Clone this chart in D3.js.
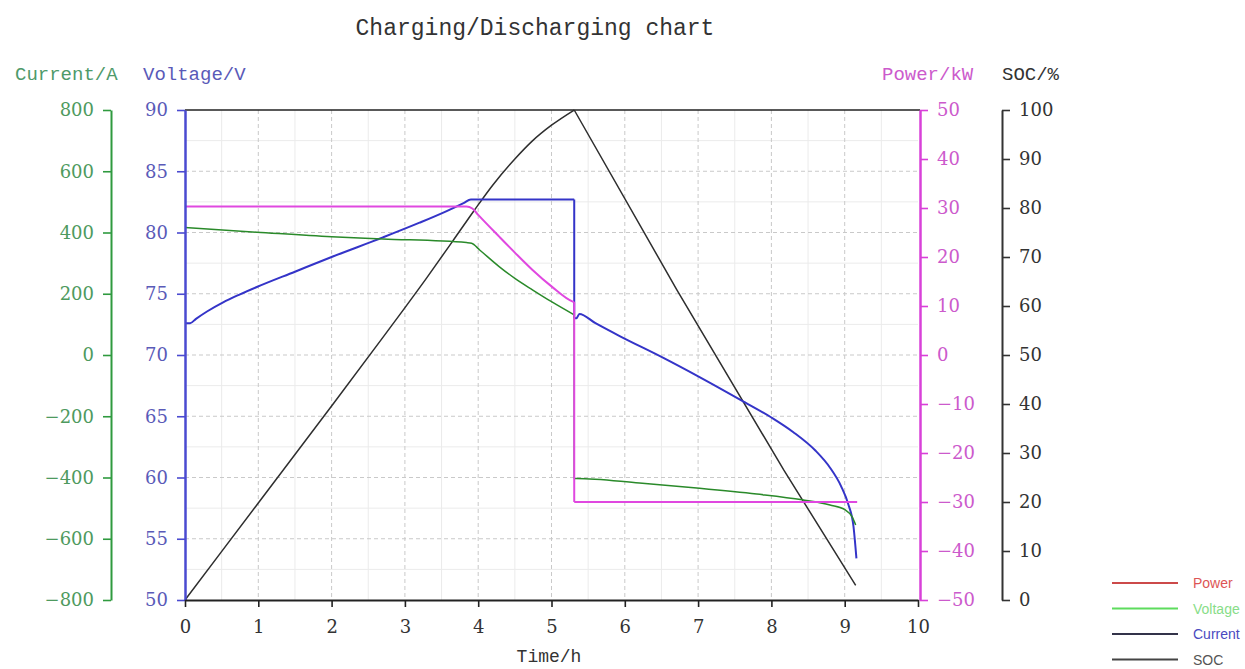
<!DOCTYPE html>
<html><head><meta charset="utf-8">
<script src="https://cdn.jsdelivr.net/npm/d3@7"></script>
<style>body{margin:0;background:#fff;} svg{display:block}</style>
</head><body><svg id="c" width="1245" height="669"></svg>
<script>
// ---- data ----
const timeTicks = [0,1,2,3,4,5,6,7,8,9,10];
const voltageTicks = [50,55,60,65,70,75,80,85,90];
const currentTicks = [-800,-600,-400,-200,0,200,400,600,800];
const powerTicks = [-50,-40,-30,-20,-10,0,10,20,30,40,50];
const socTicks = [0,10,20,30,40,50,60,70,80,90,100];

// [time h, volts]
const voltageData = [[0,72.6],[0.07,72.6],[0.15,72.95],[0.3,73.55],[0.52,74.3],[0.75,74.95],[0.98,75.55],[1.5,76.8],[2.0,78.0],[2.7,79.6],[3.2,80.8],[3.57,81.75],[3.8,82.4],[3.9,82.7],[5.31,82.7],[5.31,73.0],[5.34,73.0],[5.38,73.35],[5.6,72.6],[5.93,71.55],[6.5,69.85],[7.02,68.2],[7.59,66.3],[8.0,64.9],[8.3,63.7],[8.6,62.2],[8.8,60.8],[8.95,59.3],[9.05,57.8],[9.12,56.0],[9.16,53.4]];
// [time h, amps]
const currentData = [[0,416],[0.98,401],[2.0,386],[2.7,379],[3.84,367],[3.91,365],[4.02,343],[4.29,288],[4.5,250],[4.745,212],[5.0,174],[5.31,131],[5.31,-403],[5.34,-403],[6.2,-418],[7.02,-435],[7.8,-454],[8.42,-473],[8.8,-490],[9.01,-506],[9.1,-528],[9.15,-555]];
// [time h, kW]
const powerData = [[0,30.3],[3.84,30.3],[3.92,29.9],[4.0,28.6],[4.29,24.1],[4.5,20.9],[4.745,17.3],[5.0,14.0],[5.29,10.9],[5.31,10.8],[5.31,-30],[9.17,-30]];
// [time h, %]
const socChargeData = [[0,0],[1,19.8],[2,39.6],[2.7,53.6],[3.3,65.8],[3.65,73.2],[3.95,79.6],[4.2,84.7],[4.5,90.0],[4.74,93.7],[5.0,96.9],[5.31,100]];
const socDischargeData = [[5.31,100],[6.71,63.3],[8.17,26.5],[9.15,3.0]];

const legendNames = ["Power","Voltage","Current","SOC"];
const legendLineColors = ["#cc4a4a","#5ddc5d","#33334a","#444444"];
const legendTextColors = ["#dd5555","#88dd88","#4a4ac0","#555555"];

// ---- chart ----
const svg = d3.select("#c");
const X0 = 185, X1 = 918, YT = 110, YB = 600;
const x = d3.scaleLinear().domain([0,10]).range([X0,X1]);
const yV = d3.scaleLinear().domain([50,90]).range([YB,YT]);
const yI = d3.scaleLinear().domain([-800,800]).range([YB,YT]);
const yP = d3.scaleLinear().domain([-50,50]).range([YB,YT]);
const yS = d3.scaleLinear().domain([0,100]).range([YB,YT]);

const tickFont = "'DejaVu Serif', serif";
const monoFont = "'Liberation Mono', monospace";

// grid
const grid = svg.append("g");
const halfX = d3.range(0.5,10,1);
const halfV = d3.range(52.5,90,5);
grid.selectAll(".mx").data(halfX).join("line")
  .attr("x1",d=>x(d)).attr("x2",d=>x(d)).attr("y1",YT).attr("y2",YB)
  .attr("stroke","#ebebeb").attr("stroke-width",1);
grid.selectAll(".my").data(halfV).join("line")
  .attr("y1",d=>yV(d)).attr("y2",d=>yV(d)).attr("x1",X0).attr("x2",X1)
  .attr("stroke","#ebebeb").attr("stroke-width",1);
grid.selectAll(".gx").data(timeTicks.slice(1,-1)).join("line")
  .attr("x1",d=>x(d)).attr("x2",d=>x(d)).attr("y1",YT).attr("y2",YB)
  .attr("stroke","#c9c9c9").attr("stroke-width",1).attr("stroke-dasharray","4,3");
grid.selectAll(".gy").data(voltageTicks.slice(1,-1)).join("line")
  .attr("y1",d=>yV(d)).attr("y2",d=>yV(d)).attr("x1",X0).attr("x2",X1)
  .attr("stroke","#c9c9c9").attr("stroke-width",1).attr("stroke-dasharray","4,3");

// top border
svg.append("line").attr("x1",X0).attr("x2",X1+2).attr("y1",YT).attr("y2",YT)
  .attr("stroke","#222").attr("stroke-width",1.6);

// series path builder: splits at vertical steps
function buildPath(data, ys, curve){
  const line = d3.line().x(d=>x(d[0])).y(d=>ys(d[1])).curve(curve);
  let pieces = [], cur = [data[0]];
  for(let i=1;i<data.length;i++){
    if(data[i][0]===data[i-1][0]){
      pieces.push(cur); pieces.push([data[i-1],data[i]]); cur=[data[i]];
    } else cur.push(data[i]);
  }
  pieces.push(cur);
  return pieces.filter(p=>p.length>1).map(p=>line(p)).join("");
}
const mono = d3.curveMonotoneX;
const lines = svg.append("g").attr("fill","none");
lines.append("path").attr("d",buildPath(socChargeData,yS,mono)+buildPath(socDischargeData,yS,d3.curveLinear))
  .attr("stroke","#2e2e2e").attr("stroke-width",1.5);
lines.append("path").attr("d",buildPath(voltageData,yV,mono))
  .attr("stroke","#3434c8").attr("stroke-width",2);
lines.append("path").attr("d",buildPath(currentData,yI,mono))
  .attr("stroke","#2a8a2a").attr("stroke-width",1.5);
lines.append("path").attr("d",buildPath(powerData,yP,mono))
  .attr("stroke","#e048e0").attr("stroke-width",2);

// vertical axes
function vAxis(scale, xpos, side, major, minorStep, lineColor, textColor, width){
  const g = svg.append("g").attr("transform",`translate(${xpos},0)`);
  const mk = side==="left" ? d3.axisLeft : d3.axisRight;
  const dom = scale.domain();
  const minor = d3.range(dom[0], dom[1]+1e-9, minorStep).filter(v=>!major.includes(v));
  g.call(mk(scale).tickValues(minor).tickSize(4).tickSizeOuter(0).tickFormat(""));
  g.call(mk(scale).tickValues(major).tickSize(8).tickSizeOuter(0).tickPadding(9).tickFormat(d3.format("d")));
  g.selectAll("path.domain").attr("stroke",lineColor).attr("stroke-width",width);
  g.selectAll(".tick line").attr("stroke",lineColor).attr("stroke-width",1.6);
  g.selectAll("text").attr("fill",textColor).style("font-family",tickFont).style("font-size","18px");
  return g;
}
vAxis(yI, 111, "left", currentTicks, 100, "#2f9a3f", "#4e9a5e", 2);
vAxis(yV, X0, "left", voltageTicks, 2.5, "#4a4ad0", "#5a5ab8", 2.5);
vAxis(yP, 920, "right", powerTicks, 5, "#d840d8", "#cc5acc", 2.5);
vAxis(yS, 1002, "right", socTicks, 5, "#333333", "#333333", 2);

// x axis
const gx = svg.append("g").attr("transform",`translate(0,${YB})`);
gx.call(d3.axisBottom(x).tickValues(d3.range(0.5,10,1)).tickSize(4).tickSizeOuter(0).tickFormat(""));
gx.call(d3.axisBottom(x).tickValues(timeTicks).tickSize(7).tickSizeOuter(0).tickPadding(13).tickFormat(d3.format("d")));
gx.selectAll("path.domain").attr("stroke","#222").attr("stroke-width",1.8);
gx.selectAll(".tick line").attr("stroke","#222").attr("stroke-width",1.6);
gx.selectAll("text").attr("fill","#333").style("font-family",tickFont).style("font-size","18px");

// titles
svg.append("text").attr("x",535).attr("y",35).attr("text-anchor","middle")
  .style("font-family",monoFont).style("font-size","23px").attr("fill","#333")
  .text("Charging/Discharging chart");
const axisTitles = [
  {t:"Current/A", x:15, c:"#4e9a6a"},
  {t:"Voltage/V", x:143, c:"#5a5ab8"},
  {t:"Power/kW", x:882, c:"#cc5acc"},
  {t:"SOC/%", x:1002, c:"#333333"}
];
svg.selectAll(".at").data(axisTitles).join("text")
  .attr("x",d=>d.x).attr("y",80).attr("fill",d=>d.c)
  .style("font-family",monoFont).style("font-size","19px").text(d=>d.t);
svg.append("text").attr("x",549).attr("y",662).attr("text-anchor","middle")
  .style("font-family",monoFont).style("font-size","18px").attr("fill","#333").text("Time/h");

// legend
const lg = svg.append("g");
legendNames.forEach((n,i)=>{
  const yy = 583 + i*25.5;
  lg.append("line").attr("x1",1112).attr("x2",1178).attr("y1",yy).attr("y2",yy)
    .attr("stroke",legendLineColors[i]).attr("stroke-width",2);
  lg.append("text").attr("x",1193).attr("y",yy+5).attr("fill",legendTextColors[i])
    .style("font-family","'Liberation Sans', Arial, sans-serif").style("font-size","14px").text(n);
});
</script>
</body></html>
